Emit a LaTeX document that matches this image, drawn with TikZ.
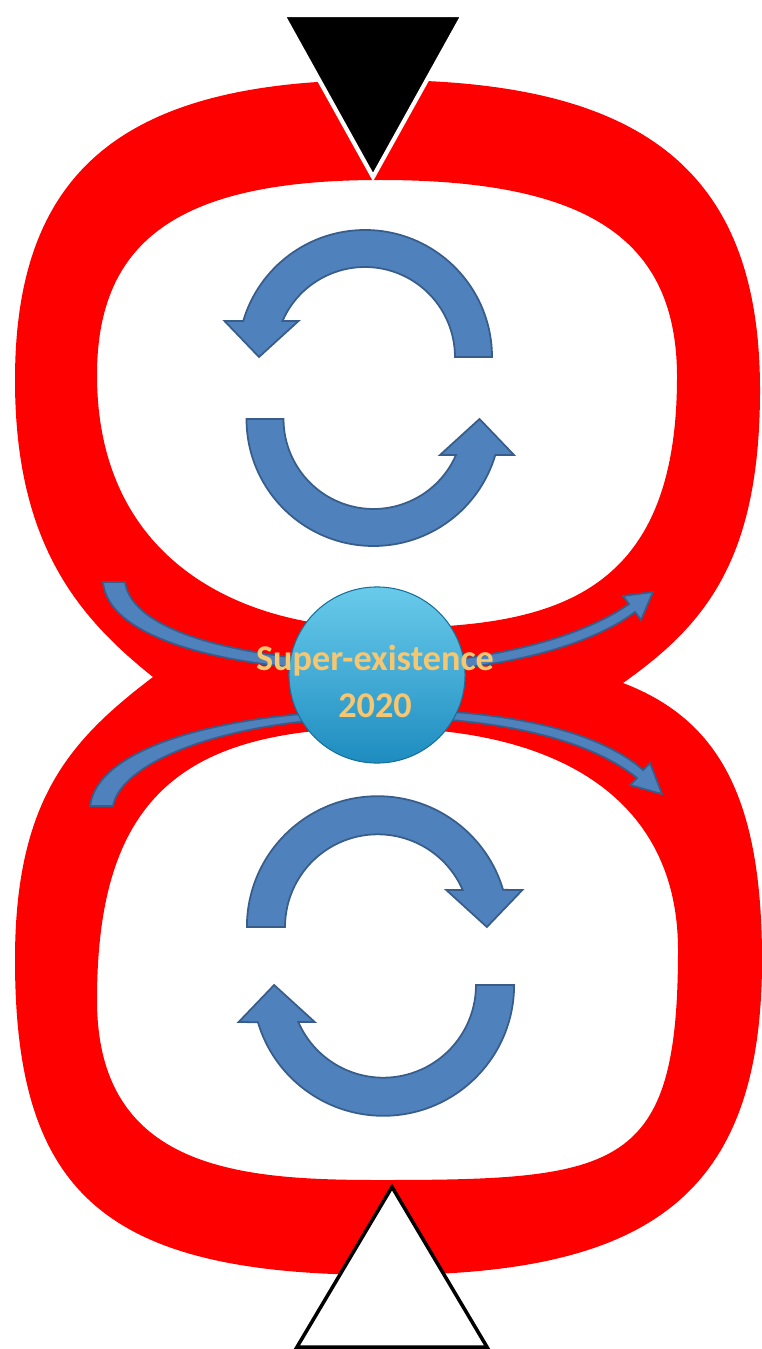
\documentclass[tikz,border=0pt]{standalone}
\usepackage{fontspec}
\setsansfont{Carlito}
\usetikzlibrary{positioning}
\definecolor{loopred}{RGB}{255,0,0}
\definecolor{cycblue}{RGB}{79,129,189}
\definecolor{cycedge}{RGB}{56,93,138}
\definecolor{coretop}{RGB}{105,203,235}
\definecolor{coremid}{RGB}{52,172,218}
\definecolor{corebot}{RGB}{30,140,192}
\definecolor{gold}{RGB}{247,198,112}
\tikzset{
  cyc/.style={fill=cycblue,draw=cycedge,line width=0.5pt,line join=miter},
  core/.style={circle,minimum size=1.76cm,inner sep=0pt,top color=coretop,middle color=coremid,bottom color=corebot,draw=corebot!80!black,line width=0.3pt},
  tag/.style={font=\sffamily\bfseries\fontsize{10.3}{13.4}\selectfont,text=gold,align=center,inner sep=0pt}
}
\begin{document}
\begin{tikzpicture}[x=0.01cm,y=-0.01cm]
  \useasboundingbox (0,0) rectangle (762,1349);
  % the red eight
  \fill[loopred,even odd rule]
    (380,80) .. controls (646,80) and (760,173) .. (760,390)
    .. controls (760,560) and (705,625) .. (623,683)
    .. controls (720,720) and (762,800) .. (762,960)
    .. controls (762,1196) and (649,1275) .. (385,1275)
    .. controls (107,1275) and (15,1196) .. (15,960)
    .. controls (15,800) and (70,740) .. (153,677)
    .. controls (75,615) and (15,540) .. (15,380)
    .. controls (15,170) and (124,80) .. (380,80) -- cycle
    (380,180) .. controls (588,180) and (677,239) .. (677,377)
    .. controls (677,600) and (550,628) .. (380,628)
    .. controls (240,628) and (97,560) .. (97,375)
    .. controls (97,238) and (182,180) .. (380,180) -- cycle
    (380,728) .. controls (560,728) and (678,800) .. (678,950)
    .. controls (678,1170) and (620,1180) .. (380,1180)
    .. controls (240,1180) and (97,1170) .. (97,1000)
    .. controls (97,800) and (180,728) .. (380,728) -- cycle;
  % thin curved arrows behind the core
  \fill[cyc] (103,582) .. controls (108,640) and (230,670) .. (377,672)
    .. controls (480,674) and (585,650) .. (635,612) -- (641,620) -- (653,592) -- (623,596) -- (629,604)
    .. controls (578,640) and (480,664) .. (377,664)
    .. controls (230,658) and (132,630) .. (125,582) -- cycle;
  \fill[cyc] (90,806) .. controls (98,745) and (230,712) .. (377,710)
    .. controls (500,708) and (598,730) .. (643,770) -- (650,763) -- (662,794) -- (630,785) -- (637,778)
    .. controls (590,740) and (500,717) .. (377,717)
    .. controls (230,719) and (122,760) .. (113,806) -- cycle;
  \node[core] (core) at (377,675) {};
  \node[tag] (title) at (375,681) {Super-existence\\2020};
  % cycle arrows
  \foreach \cx/\cy/\sx/\sy in {365/357/1/1,373.5/419/-1/-1,377.7/927/-1.03/1.03,383.3/985/1.03/-1.03}
    \filldraw[cyc,shift={(\cx,\cy)},xscale=\sx,yscale=\sy]
      (127,0) arc[start angle=0,end angle=-163.5,radius=127] -- (-140.5,-36) -- (-106,0) -- (-66.5,-36)
      -- (-82.5,-36) arc[start angle=-156.4,end angle=0,radius=90] -- cycle;
  % triangles
  \filldraw[fill=black,draw=white,line width=1.2pt] (283,15) -- (463,15) -- (373,177) -- cycle;
  \filldraw[fill=white,draw=black,line width=1pt] (392,1187) -- (297,1347) -- (487,1347) -- cycle;
\end{tikzpicture}
\end{document}
